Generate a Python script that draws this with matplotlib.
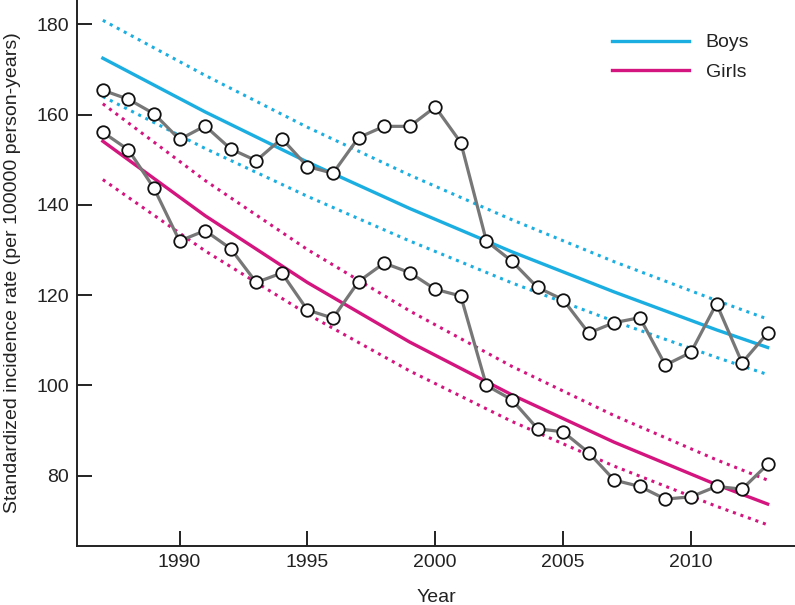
import matplotlib
matplotlib.use("Agg")
import matplotlib.pyplot as plt
import numpy as np

plt.rcParams['font.family'] = ['Liberation Sans', 'DejaVu Sans']

years = list(range(1987, 2014))
boys = [165.4, 163.4, 160.2, 154.5, 157.5, 152.4, 149.8, 154.7, 148.5, 147.0,
        154.9, 157.4, 157.4, 161.7, 153.8, 132.0, 127.5, 121.7, 119.0, 111.6,
        113.9, 115.0, 104.5, 107.3, 118.1, 105.0, 111.6]
girls = [156.1, 152.2, 143.7, 132.0, 134.3, 130.3, 122.8, 124.9, 116.7, 114.9,
         123.0, 127.1, 125.0, 121.3, 119.8, 100.0, 96.8, 90.4, 89.7, 85.1,
         79.0, 77.6, 74.8, 75.3, 77.6, 77.0, 82.5]

trend_years = [1987, 1991, 1995, 1999, 2003, 2007, 2011, 2013]
boys_trend = [172.5, 160.6, 149.5, 139.2, 129.6, 120.7, 112.3, 108.4]
boys_upper = [180.9, 168.7, 157.2, 146.6, 136.7, 127.4, 118.8, 114.7]
boys_lower = [164.0, 152.5, 141.9, 132.0, 122.7, 114.2, 106.2, 102.4]
girls_trend = [154.1, 137.6, 122.8, 109.6, 97.9, 87.4, 78.0, 73.7]
girls_upper = [162.4, 145.4, 130.1, 116.5, 104.2, 93.3, 83.5, 79.0]
girls_lower = [145.6, 129.8, 115.8, 103.2, 92.0, 82.1, 73.2, 69.1]

blue = '#1BAEE1'
magenta = '#D4157F'
gray = '#777777'

fig = plt.figure(figsize=(7.95, 6.05), dpi=100)
ax = fig.add_axes([0.0972, 0.0975, 0.9028, 0.9025])

dot = (0, (1, 1.6))
ax.plot(trend_years, boys_upper, color=blue, lw=2.2, ls=dot)
ax.plot(trend_years, boys_lower, color=blue, lw=2.2, ls=dot)
ax.plot(trend_years, girls_upper, color=magenta, lw=2.2, ls=dot)
ax.plot(trend_years, girls_lower, color=magenta, lw=2.2, ls=dot)
lb, = ax.plot(trend_years, boys_trend, color=blue, lw=2.4, label='Boys')
lg, = ax.plot(trend_years, girls_trend, color=magenta, lw=2.4, label='Girls')

for series in (boys, girls):
    ax.plot(years, series, color=gray, lw=2.3, marker='o', markersize=9,
            markerfacecolor='white', markeredgecolor='#111111', markeredgewidth=1.3,
            zorder=5)

ax.set_xlim(1986, 2014.07)
ax.set_ylim(64.4, 185.4)
ax.set_xticks([1990, 1995, 2000, 2005, 2010])
ax.set_yticks([80, 100, 120, 140, 160, 180])

for s in ('top', 'right'):
    ax.spines[s].set_visible(False)
for s in ('left', 'bottom'):
    ax.spines[s].set_linewidth(1.4)
    ax.spines[s].set_color('#222222')

ax.tick_params(direction='in', length=11, width=1.4, color='#222222',
               labelsize=14, labelcolor='#222222', pad=6)

ax.set_xlabel('Year', fontsize=14, color='#222222', labelpad=12.5)
ax.set_ylabel('Standardized incidence rate (per 100000 person-years)', fontsize=14,
              color='#222222')
ax.yaxis.set_label_coords(-0.079, 0.5)

ax.legend(handles=[lb, lg], loc='upper left', bbox_to_anchor=(0.745, 0.938),
          frameon=False, borderpad=0, borderaxespad=0, handlelength=3.97,
          handletextpad=0.85, labelspacing=0.6, fontsize=14, labelcolor='#222222')

fig.savefig('out.png', dpi=100)
